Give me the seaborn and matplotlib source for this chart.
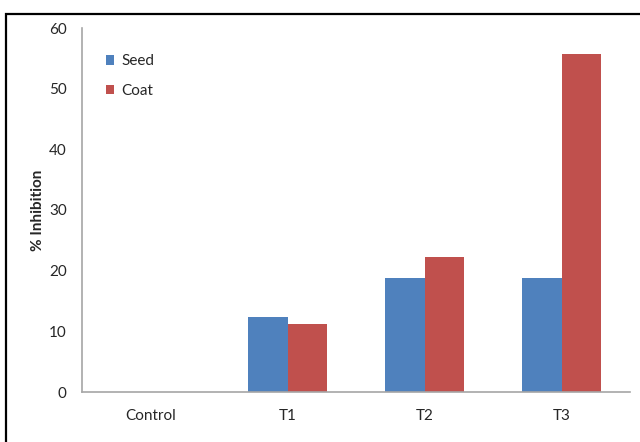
import matplotlib
matplotlib.use("Agg")
import matplotlib.pyplot as plt
import seaborn as sns
import pandas as pd
from matplotlib.patches import Rectangle
from matplotlib.ticker import FixedLocator

# Data
treatments = ["Control", "T1", "T2", "T3"]
seed = [0.0, 12.4, 18.85, 18.85]
coat = [0.0, 11.2, 22.3, 55.7]
series = ["Seed", "Coat"]
colors = ["#4F81BD", "#C0504D"]
y_ticks = [0, 10, 20, 30, 40, 50, 60]

df = pd.DataFrame({
    "Treatment": treatments * 2,
    "Inhibition": seed + coat,
    "Part": [series[0]] * len(treatments) + [series[1]] * len(treatments),
})

sns.set_style("white")
plt.rcParams["font.family"] = ["Lato", "DejaVu Sans"]

fig = plt.figure(figsize=(6.4, 4.42), dpi=100)
ax = fig.add_axes([82 / 640, 1 - 392 / 442, (630 - 82) / 640, (392 - 28) / 442])

sns.barplot(data=df, x="Treatment", y="Inhibition", hue="Part",
            palette=colors, width=0.574, gap=0, saturation=1, linewidth=0,
            order=treatments, hue_order=series, ax=ax, errorbar=None)

axis_gray = "#A6A6A6"
ax.set_xlim(-0.5, len(treatments) - 0.5)
ax.set_ylim(0, 60)
ax.set_yticks(y_ticks)
ax.tick_params(axis="y", length=5, color=axis_gray, labelsize=11, pad=6)
ax.tick_params(axis="x", which="major", length=0, labelsize=11, pad=12)
ax.xaxis.set_minor_locator(FixedLocator([i - 0.5 for i in range(len(treatments) + 1)]))
ax.tick_params(axis="x", which="minor", length=5, color=axis_gray)

for side in ["top", "right"]:
    ax.spines[side].set_visible(False)
for side in ["left", "bottom"]:
    ax.spines[side].set_color(axis_gray)
    ax.spines[side].set_linewidth(1.2)

ax.set_xlabel("")
ax.set_ylabel("% Inhibition", fontsize=11, fontweight="bold", labelpad=3)

leg = ax.legend(loc="upper left", bbox_to_anchor=(0.018, 0.965), frameon=False,
                fontsize=11, handlelength=0.55, handleheight=0.55,
                handletextpad=0.5, labelspacing=1.0)

# Outer black frame of the figure
fig.patches.append(Rectangle((5.5 / 640, -0.2), 1.2, 0.2 + 1 - 14 / 442,
                             transform=fig.transFigure, fill=False,
                             edgecolor="black", linewidth=1.6))

fig.savefig("out.png", dpi=100)
